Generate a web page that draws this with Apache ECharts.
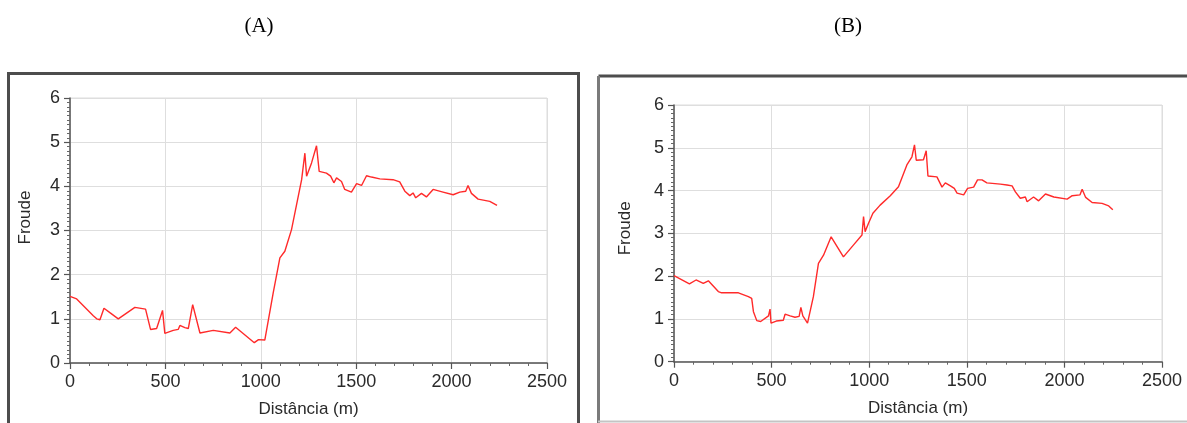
<!DOCTYPE html>
<html>
<head>
<meta charset="utf-8">
<script src="https://cdn.jsdelivr.net/npm/echarts@6/dist/echarts.min.js"></script>
<style>
html,body{margin:0;padding:0;background:#fff;}
#c{width:1187px;height:423px;}
</style>
</head>
<body>
<div id="c"></div>
<script>
// Panel titles and axis labels
const panelTitles = ['(A)', '(B)'];
const xAxisName = 'Distância (m)';
const yAxisName = 'Froude';

// Panel A: distance (m) and Froude number
const distA = [0,35,122,140,157,178,209,253,340,396,422,454,485,497,541,567,576,602,620,643,681,751,838,868,966,988,1021,1065,1100,1126,1161,1214,1231,1240,1266,1292,1306,1344,1366,1383,1397,1423,1440,1475,1502,1528,1554,1580,1624,1693,1728,1755,1781,1798,1812,1842,1868,1903,1955,2008,2043,2074,2086,2104,2139,2200,2238];
const froudeA = [1.51,1.45,1.07,1.00,0.98,1.24,1.14,1.00,1.26,1.22,0.76,0.78,1.19,0.67,0.74,0.76,0.85,0.80,0.78,1.32,0.68,0.74,0.68,0.81,0.46,0.53,0.52,1.59,2.38,2.53,3.02,4.15,4.75,4.23,4.53,4.92,4.34,4.30,4.23,4.08,4.19,4.11,3.93,3.87,4.06,4.02,4.24,4.21,4.17,4.15,4.10,3.89,3.79,3.85,3.74,3.84,3.76,3.93,3.87,3.81,3.87,3.89,4.02,3.84,3.71,3.66,3.57];

// Panel B
const distB = [0,79,113,150,176,227,244,330,381,398,407,424,444,484,492,497,524,560,569,595,620,641,650,660,684,714,740,766,805,868,920,963,971,979,996,1019,1056,1108,1150,1193,1219,1232,1241,1278,1292,1301,1347,1373,1390,1416,1436,1450,1484,1504,1535,1555,1578,1603,1672,1706,1732,1749,1774,1800,1809,1842,1868,1903,1946,2014,2040,2080,2091,2109,2142,2193,2227,2248];
const froudeB = [2.01,1.82,1.91,1.83,1.89,1.64,1.61,1.61,1.52,1.48,1.17,0.96,0.94,1.07,1.23,0.90,0.95,0.97,1.11,1.07,1.04,1.06,1.27,1.07,0.90,1.52,2.30,2.49,2.92,2.45,2.73,2.96,3.39,3.04,3.23,3.47,3.66,3.88,4.09,4.60,4.79,5.07,4.71,4.72,4.93,4.34,4.32,4.08,4.18,4.11,4.05,3.94,3.90,4.05,4.08,4.25,4.25,4.18,4.15,4.13,4.11,3.97,3.82,3.85,3.74,3.85,3.76,3.92,3.85,3.80,3.88,3.90,4.03,3.84,3.72,3.70,3.64,3.55];

const chart = echarts.init(document.getElementById('c'), null, {renderer: 'canvas'});
const font = 'Liberation Sans, Arial, sans-serif';

function xAx(gi) {
  return {
    gridIndex: gi, type: 'value', min: 0, max: 2500, interval: 500,
    name: xAxisName, nameLocation: 'middle', nameGap: 38,
    nameTextStyle: {fontFamily: font, fontSize: 17, color: '#2a2a2a'},
    axisLine: {show: true, onZero: false, lineStyle: {color: '#555', width: 1.5}},
    axisTick: {show: true, length: 6, lineStyle: {color: '#555', width: 1.2}},
    minorTick: {show: true, splitNumber: 5, length: 3, lineStyle: {color: '#666', width: 1}},
    axisLabel: {fontFamily: font, fontSize: 18, color: '#2a2a2a', margin: 10, formatter: v => String(v)},
    splitLine: {show: true, lineStyle: {color: '#dedede', width: 1}}
  };
}
function yAx(gi, gap, pad) {
  return {
    gridIndex: gi, type: 'value', min: 0, max: 6, interval: 1,
    name: yAxisName, nameLocation: 'middle', nameGap: gap, nameRotate: 90,
    nameTextStyle: {fontFamily: font, fontSize: 17, color: '#2a2a2a', padding: pad},
    axisLine: {show: true, onZero: false, lineStyle: {color: '#555', width: 1.5}},
    axisTick: {show: true, length: 6, lineStyle: {color: '#555', width: 1.2}},
    minorTick: {show: true, splitNumber: 10, length: 3, lineStyle: {color: '#666', width: 1}},
    axisLabel: {fontFamily: font, fontSize: 18, color: '#2a2a2a', margin: 10, formatter: v => String(v)},
    splitLine: {show: true, lineStyle: {color: '#dedede', width: 1}}
  };
}
function pairs(xs, ys) { return xs.map((x, i) => [x, ys[i]]); }

const titleFont = '21px "Liberation Serif", "Times New Roman", serif';

chart.setOption({
  animation: false,
  backgroundColor: '#fff',
  grid: [
    {left: 70, right: 1187 - 547, top: 98, bottom: 423 - 363.5, show: true, borderColor: '#dcdcdc', borderWidth: 1},
    {left: 674, right: 1187 - 1162, top: 105, bottom: 423 - 361.7, show: true, borderColor: '#dcdcdc', borderWidth: 1}
  ],
  xAxis: [xAx(0), xAx(1)],
  yAxis: [yAx(0, 36, [0, 0, 0, 26]), yAx(1, 40, [0, 0, 0, 10])],
  series: [
    {type: 'line', xAxisIndex: 0, yAxisIndex: 0, data: pairs(distA, froudeA), showSymbol: false,
     lineStyle: {color: '#ff2a2a', width: 1.4}, itemStyle: {color: '#ff2a2a'}},
    {type: 'line', xAxisIndex: 1, yAxisIndex: 1, data: pairs(distB, froudeB), showSymbol: false,
     lineStyle: {color: '#ff2a2a', width: 1.4}, itemStyle: {color: '#ff2a2a'}}
  ],
  graphic: [
    {type: 'text', x: 259, y: 26, style: {text: panelTitles[0], font: titleFont, fill: '#000', textAlign: 'center', textVerticalAlign: 'middle'}},
    {type: 'text', x: 848, y: 26, style: {text: panelTitles[1], font: titleFont, fill: '#000', textAlign: 'center', textVerticalAlign: 'middle'}},
    {type: 'rect', shape: {x: 8.5, y: 73.5, width: 570, height: 400}, style: {fill: 'none', stroke: '#4d4d4d', lineWidth: 3}, z: 100},
    {type: 'line', shape: {x1: 598.5, y1: 76, x2: 1187, y2: 76}, style: {stroke: '#4d4d4d', lineWidth: 3}, z: 100},
    {type: 'line', shape: {x1: 598.5, y1: 76, x2: 598.5, y2: 423}, style: {stroke: '#7a7a7a', lineWidth: 3}, z: 100},
    {type: 'line', shape: {x1: 598, y1: 421.5, x2: 1187, y2: 421.5}, style: {stroke: '#c4c4c4', lineWidth: 2}, z: 100}
  ]
});
</script>
</body>
</html>
